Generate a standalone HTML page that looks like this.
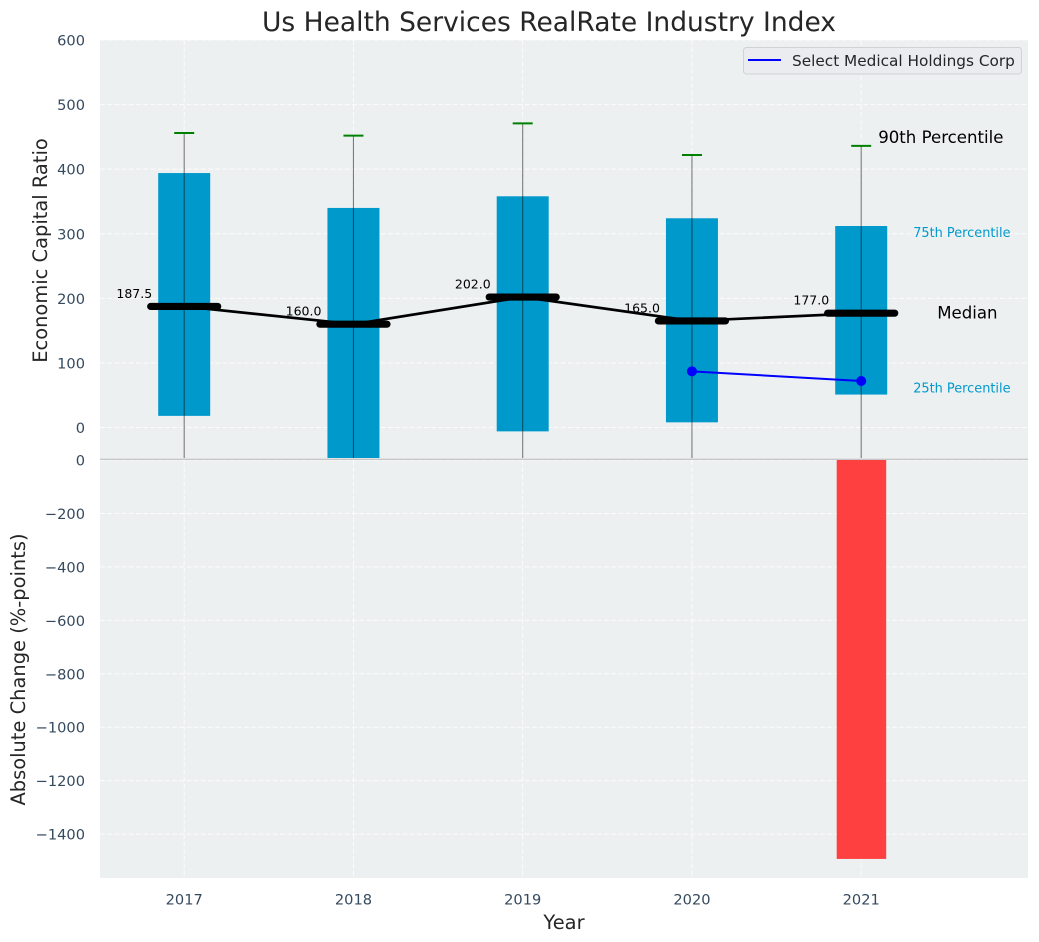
<!DOCTYPE html>
<html>
<head>
<meta charset="utf-8">
<title>Us Health Services RealRate Industry Index</title>
<style>
html,body{margin:0;padding:0;background:#fff;width:1039px;height:942px;overflow:hidden}
svg{display:block;font-family:"DejaVu Sans","Liberation Sans",sans-serif}
</style>
</head>
<body>
<svg id="chart" xmlns="http://www.w3.org/2000/svg" width="1039" height="942" viewBox="0 0 1039 942">
<defs>
<clipPath id="clip-top"><rect x="100" y="40" width="928" height="418"/></clipPath>
<clipPath id="clip-bottom"><rect x="100" y="460" width="928" height="418"/></clipPath>
</defs>
<text x="549" y="31" text-anchor="middle" font-size="26.5" fill="#262626">Us Health Services RealRate Industry Index</text>
<rect x="100" y="40" width="928" height="418" fill="#ecf0f1"/>
<rect x="100" y="460" width="928" height="418" fill="#ecf0f1"/>
<g id="top-grid" clip-path="url(#clip-top)"></g>
<g id="bottom-grid" clip-path="url(#clip-bottom)"></g>
<g id="top-marks" clip-path="url(#clip-top)"></g>
<g id="bottom-marks" clip-path="url(#clip-bottom)"></g>
<line x1="100" x2="1028" y1="459.3" y2="459.3" stroke="#c4c6c7" stroke-width="1.5"/>
<g id="tick-labels" font-size="14.6" fill="#34495e"></g>
<text transform="translate(47,250.5) rotate(-90)" text-anchor="middle" font-size="19.45" fill="#262626">Economic Capital Ratio</text>
<text transform="translate(25,669.5) rotate(-90)" text-anchor="middle" font-size="19.45" fill="#262626">Absolute Change (%-points)</text>
<text x="564" y="929" text-anchor="middle" font-size="19.45" fill="#262626">Year</text>
<g>
<rect x="743.5" y="47.5" width="278" height="26.5" rx="3" fill="#eaecf0" stroke="#d0d2d4" stroke-width="1"/>
<line x1="748" x2="781" y1="60" y2="60" stroke="#0000ff" stroke-width="2"/>
<text x="792" y="66" font-size="15.3" fill="#262626">Select Medical Holdings Corp</text>
</g>
<script>
const years = ['2017', '2018', '2019', '2020', '2021'];
const p90 = [456, 452, 471, 422, 436];
const p75 = [394, 340, 358, 324, 312];
const medians = [187.5, 160.0, 202.0, 165.0, 177.0];
const p25 = [18, -50, -6, 8, 51];
const p10 = [-50, -50, -50, -50, -50];
const companyYears = [3, 4];
const companyValues = [87, 72];
const changeYears = [4];
const changeValues = [-1493];
const topTicks = [0, 100, 200, 300, 400, 500, 600];
const bottomTicks = [0, -200, -400, -600, -800, -1000, -1200, -1400];
const medianLabels = ['187.5', '160.0', '202.0', '165.0', '177.0'];

function xScale(i) { return 184.2 + i * 169.25; }
function yTop(v) { return 427.5 - v * 0.6458; }
function yBottom(v) { return 460 - v * 0.2672; }

const NS = 'http://www.w3.org/2000/svg';
function make(parent, tag, attrs, text) {
  const el = document.createElementNS(NS, tag);
  for (const k in attrs) el.setAttribute(k, attrs[k]);
  if (text !== undefined) el.textContent = text;
  parent.appendChild(el);
  return el;
}
const topGrid = document.getElementById('top-grid');
const bottomGrid = document.getElementById('bottom-grid');
const topMarks = document.getElementById('top-marks');
const bottomMarks = document.getElementById('bottom-marks');
const tickLabels = document.getElementById('tick-labels');
const gridStyle = { stroke: '#ffffff', 'stroke-width': 1, 'stroke-dasharray': '5,2.2', opacity: 0.85 };

topTicks.forEach(function (t) {
  const g = make(topGrid, 'line', Object.assign({ x1: 100, x2: 1028, y1: yTop(t), y2: yTop(t) }, gridStyle));
  
  
  const l = make(tickLabels, 'text', { x: 85, y: yTop(t) + 1, 'text-anchor': 'end', 'dominant-baseline': 'central' }, String(t));
  
  
});
bottomTicks.forEach(function (t) {
  const g = make(bottomGrid, 'line', Object.assign({ x1: 100, x2: 1028, y1: yBottom(t), y2: yBottom(t) }, gridStyle));
  
  
  const l = make(tickLabels, 'text', { x: 85, y: yBottom(t) + 1, 'text-anchor': 'end', 'dominant-baseline': 'central' }, String(t).replace('-', '\u2212'));
  
  
});
years.forEach(function (y, i) {
  const a = make(topGrid, 'line', Object.assign({ x1: xScale(i), x2: xScale(i), y1: 40, y2: 458 }, gridStyle));
  
  
  const b = make(bottomGrid, 'line', Object.assign({ x1: xScale(i), x2: xScale(i), y1: 460, y2: 878 }, gridStyle));
  
  
  const l = make(tickLabels, 'text', { x: xScale(i), y: 904.5, 'text-anchor': 'middle' }, y);
  
  
});

const barHalf = 26;
years.forEach(function (y, i) {
  const bar = make(topMarks, 'rect', { x: xScale(i) - barHalf, y: yTop(p75[i]), width: barHalf * 2, height: yTop(p25[i]) - yTop(p75[i]), fill: '#0099cc' });
  
  
});
years.forEach(function (y, i) {
  const w = make(topMarks, 'line', { x1: xScale(i), x2: xScale(i), y1: yTop(p90[i]), y2: yTop(p10[i]), stroke: '#000000', 'stroke-opacity': 0.5, 'stroke-width': 1.1 });
  
  
  const c = make(topMarks, 'line', { x1: xScale(i) - 10, x2: xScale(i) + 10, y1: yTop(p90[i]), y2: yTop(p90[i]), stroke: '#008000', 'stroke-width': 2 });
  
  
});
const medianLine = make(topMarks, 'polyline', { points: medians.map(function (m, i) { return xScale(i) + ',' + yTop(m); }).join(' '), fill: 'none', stroke: '#000000', 'stroke-width': 2.7 });


medians.forEach(function (m, i) {
  const s = make(topMarks, 'line', { x1: xScale(i) - 33.5, x2: xScale(i) + 33.5, y1: yTop(m), y2: yTop(m), stroke: '#000000', 'stroke-width': 7.2, 'stroke-linecap': 'round' });
  
  
  const t = make(topMarks, 'text', { x: xScale(i) - 32, y: yTop(m) - 8.5, 'text-anchor': 'end', 'font-size': 12.5, fill: '#000000' }, medianLabels[i]);
  
  
});
const companyLine = make(topMarks, 'polyline', { points: companyYears.map(function (yr, k) { return xScale(yr) + ',' + yTop(companyValues[k]); }).join(' '), fill: 'none', stroke: '#0000ff', 'stroke-width': 2 });


companyYears.forEach(function (yr, k) {
  const d = make(topMarks, 'circle', { cx: xScale(yr), cy: yTop(companyValues[k]), r: 5, fill: '#0000ff' });
  
  
});
changeYears.forEach(function (yr, k) {
  const r = make(bottomMarks, 'rect', { x: xScale(yr) - 24.5, y: yBottom(0), width: 49.5, height: yBottom(changeValues[k]) - yBottom(0), fill: '#ff4040' });
  
  
});
const last = years.length - 1;
const a90 = make(topMarks, 'text', { x: xScale(last) + 17, y: yTop(p90[last]) - 3, 'font-size': 16.6, fill: '#000000' }, '90th Percentile');


const a75 = make(topMarks, 'text', { x: xScale(last) + 52, y: yTop(p75[last]) + 11, 'font-size': 12.9, fill: '#0099cc' }, '75th Percentile');


const aMed = make(topMarks, 'text', { x: xScale(last) + 76, y: yTop(medians[last]) + 5.5, 'font-size': 16.6, fill: '#000000' }, 'Median');


const a25 = make(topMarks, 'text', { x: xScale(last) + 52, y: yTop(p25[last]) - 2, 'font-size': 12.9, fill: '#0099cc' }, '25th Percentile');


</script>
</svg>
</body>
</html>
